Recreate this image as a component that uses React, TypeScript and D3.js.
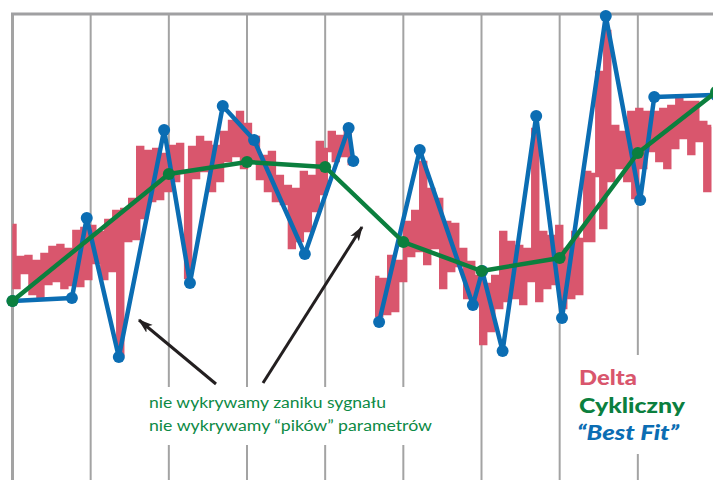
import React from 'react';
import * as d3 from 'd3';

// Delta (red) - two segments, signal level
const delta1 = [
  174, 113, 142, 128, 143, 107, 138, 103, 145, 117, 152, 120, 154, 113, 150, 116, 168, 115, 171, 122,
  173, 138, 167, 122, 179, 130, 188, 46, 190, 160, 200, 162, 252, 183, 248, 200, 250, 202, 245, 210,
  253, 220, 255, 228, 123, 252, 223, 262, 230, 257, 210, 253, 220, 267, 240, 278, 245, 287, 233, 275,
  240, 262, 222, 243, 210, 247, 200, 223, 197, 213, 153, 210, 160, 227, 170, 223, 190, 257, 207, 250,
  267, 240, 263, 245, 270, 237,
];
const delta2 = [
  122, 85, 120, 87, 143, 90, 138, 120, 177, 145, 188, 150, 237, 137, 210, 153, 200, 113, 177, 130,
  175, 135, 150, 103, 137, 97, 123, 57, 115, 70, 123, 93, 167, 100, 157, 103, 153, 97, 150, 120,
  270, 100, 167, 113, 163, 117, 173, 93, 150, 103, 167, 107, 160, 227, 160, 225, 327, 173, 368, 220,
  273, 233, 267, 220, 287, 203, 290, 233, 287, 250, 287, 240, 290, 233, 293, 253, 300, 263, 297, 247,
  297, 260, 277, 210, 273,
];
const deltaRange1: [number, number] = [0, 4.34];
const deltaRange2: [number, number] = [4.64, 8.94];

// Cykliczny (green) - values on the grid columns
const cyclicX = [0, 2, 3, 4, 5, 6, 7, 8, 9];
const cyclicY = [99, 226, 238, 233, 158, 129, 142, 247, 308];

// "Best Fit" (blue) - NaN marks the break
const fitX = [0, 0.76, 0.95, 1.36, 1.94, 2.27, 2.69, 3.09, 3.74, 4.3, 4.36, 4.5, 4.69, 5.21, 5.89, 6.01, 6.27, 6.7, 7.03, 7.59, 8.03, 8.21, 9];
const fitY = [99, 102, 182, 43, 270, 117, 294, 260, 146, 272, 239, NaN, 78, 250, 95, 129, 49, 284, 82, 384, 200, 303, 305];

const legend = [
  { label: 'Delta', color: '#d9566d', italic: false, len: 58 },
  { label: 'Cykliczny', color: '#0b7f3e', italic: false, len: 106 },
  { label: '\u201cBest Fit\u201d', color: '#0b6db3', italic: true, len: 102 },
];
const notes = ['nie wykrywamy zaniku sygna\u0142u', 'nie wykrywamy \u201cpik\u00f3w\u201d parametr\u00f3w'];

const W = 713;
const H = 480;

const App: React.FC = () => {
  const x = d3.scaleLinear().domain([0, 9]).range([12.5, 716]);
  const y = d3.scaleLinear().domain([0, 400]).range([400, 0]);

  const deltaPts = (vals: number[], r: [number, number]) => {
    const ix = d3.scaleLinear().domain([0, vals.length - 1]).range(r);
    return vals.map((v, i) => [ix(i), v] as [number, number]);
  };
  const plain = d3
    .line<[number, number]>()
    .defined((d) => !isNaN(d[1]))
    .x((d) => x(d[0]))
    .y((d) => y(d[1]));
  const stepped = d3
    .line<[number, number]>()
    .x((d) => x(d[0]))
    .y((d) => y(d[1]))
    .curve(d3.curveStep);

  const fit = fitX.map((v, i) => [v, fitY[i]] as [number, number]);
  const cyc = cyclicX.map((v, i) => [v, cyclicY[i]] as [number, number]);
  const grid = d3.range(0, 10);

  return (
    <svg width={W} height={H} style={{ position: 'absolute', left: 0, top: 0 }}>
      <defs>
        <marker id="ah" viewBox="0 0 12 8" refX="11" refY="4" markerWidth="5" markerHeight="3.6" orient="auto" markerUnits="strokeWidth">
          <path d="M0,0 L12,4 L0,8 L3,4 z" fill="#231f20" />
        </marker>
      </defs>
      <rect width={W} height={H} fill="#fff" />
      {grid.map((g) => (
        <line key={g} x1={x(g)} x2={x(g)} y1={14} y2={H} stroke="#a3a3a3" strokeWidth={g === 0 ? 3 : 2} />
      ))}
      <line x1={11} x2={W} y1={14} y2={14} stroke="#a0a0a2" strokeWidth={3} />
      <rect x={140} y={387} width={300} height={58} fill="#fff" />
      <rect x={570} y={355} width={143} height={99} fill="#fff" />

      {[deltaPts(delta1, deltaRange1), deltaPts(delta2, deltaRange2)].map((pts, i) => (
        <path key={i} d={stepped(pts) || ''} fill="none" stroke="#d9566d" strokeWidth={4.4} />
      ))}

      <path d={plain(fit) || ''} fill="none" stroke="#0b6db3" strokeWidth={4.5} strokeLinejoin="round" />
      {fit.filter((d) => !isNaN(d[1])).map((d, i) => (
        <circle key={i} cx={x(d[0])} cy={y(d[1])} r={6} fill="#0b6db3" />
      ))}

      <path d={plain(cyc) || ''} fill="none" stroke="#0b7f3e" strokeWidth={4.5} strokeLinejoin="round" />
      {cyc.map((d, i) => (
        <circle key={i} cx={x(d[0])} cy={y(d[1])} r={6} fill="#0b7f3e" />
      ))}

      <line x1={216} y1={384} x2={139} y2={320} stroke="#231f20" strokeWidth={3} markerEnd="url(#ah)" />
      <line x1={263} y1={383} x2={362} y2={227} stroke="#231f20" strokeWidth={3} markerEnd="url(#ah)" />

      {notes.map((t, i) => (
        <text key={i} x={149} y={408 + i * 23} fill="#0d8a45" fontFamily="Lato, 'Open Sans', sans-serif" fontSize={15.5}
          textLength={i === 0 ? 237 : 283} lengthAdjust="spacingAndGlyphs">
          {t}
        </text>
      ))}
      {legend.map((l, i) => (
        <text key={l.label} x={i === 2 ? 577 : 579} y={385 + i * 27.5} fill={l.color} fontFamily="Lato, 'Open Sans', sans-serif"
          fontWeight={900} fontStyle={l.italic ? 'italic' : 'normal'} fontSize={20} textLength={l.len} lengthAdjust="spacingAndGlyphs">
          {l.label}
        </text>
      ))}
    </svg>
  );
};

export default App;
